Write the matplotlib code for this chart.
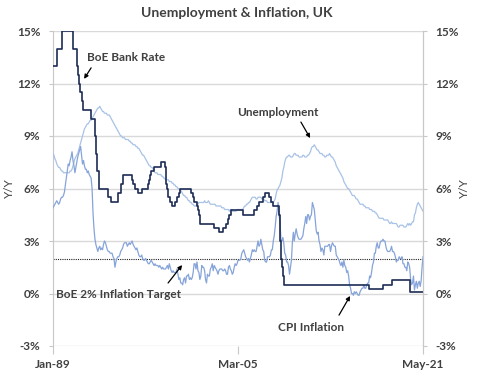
import pandas as pd
import matplotlib.pyplot as plt
import matplotlib.ticker as mticker

# ---------------------------------------------------------------------------
# Data (monthly, Jan-1989 .. May-2021)
# ---------------------------------------------------------------------------

months = pd.date_range("1989-01-01", "2021-05-01", freq="MS")

unemployment = [
    8.0, 7.9, 7.7, 7.6, 7.4, 7.3, 7.2, 7.2, 7.1, 7.0, 7.0, 6.9,      # 1989
    6.9, 6.9, 6.9, 6.9, 6.9, 6.9, 7.0, 7.0, 7.1, 7.3, 7.5, 7.7,      # 1990
    7.8, 7.9, 8.0, 8.2, 8.4, 8.6, 8.8, 9.0, 9.2, 9.4, 9.5, 9.6,      # 1991
    9.7, 9.7, 9.8, 9.9, 9.9, 10.0, 10.1, 10.2, 10.3, 10.4, 10.5, 10.6,  # 1992
    10.6, 10.7, 10.6, 10.5, 10.4, 10.4, 10.3, 10.3, 10.3, 10.2, 10.2, 10.2,  # 1993
    10.1, 10.0, 9.9, 9.8, 9.7, 9.6, 9.5, 9.4, 9.3, 9.2, 9.1, 9.0,    # 1994
    9.0, 8.9, 8.9, 8.9, 8.8, 8.8, 8.8, 8.8, 8.7, 8.7, 8.6, 8.6,      # 1995
    8.5, 8.5, 8.5, 8.4, 8.4, 8.3, 8.3, 8.2, 8.1, 8.0, 7.9, 7.9,      # 1996
    7.8, 7.7, 7.6, 7.5, 7.4, 7.3, 7.3, 7.2, 7.2, 7.1, 7.0, 6.9,      # 1997
    6.9, 6.9, 6.8, 6.8, 6.8, 6.8, 6.7, 6.7, 6.6, 6.6, 6.5, 6.5,      # 1998
    6.5, 6.5, 6.4, 6.4, 6.4, 6.3, 6.3, 6.2, 6.2, 6.1, 6.1, 6.0,      # 1999
    6.0, 5.9, 5.9, 5.8, 5.7, 5.6, 5.6, 5.5, 5.5, 5.4, 5.3, 5.3,      # 2000
    5.2, 5.2, 5.1, 5.1, 5.0, 5.0, 5.0, 5.1, 5.1, 5.2, 5.2, 5.2,      # 2001
    5.2, 5.2, 5.2, 5.3, 5.2, 5.2, 5.2, 5.3, 5.2, 5.1, 5.1, 5.1,      # 2002
    5.1, 5.1, 5.1, 5.0, 5.0, 5.0, 5.0, 5.0, 5.0, 4.9, 4.9, 4.9,      # 2003
    4.8, 4.8, 4.8, 4.8, 4.8, 4.7, 4.8, 4.8, 4.7, 4.7, 4.7, 4.7,      # 2004
    4.7, 4.8, 4.8, 4.8, 4.8, 4.8, 4.8, 4.8, 4.9, 5.0, 5.0, 5.1,      # 2005
    5.1, 5.2, 5.2, 5.3, 5.4, 5.5, 5.5, 5.5, 5.5, 5.4, 5.4, 5.5,      # 2006
    5.5, 5.5, 5.5, 5.4, 5.4, 5.4, 5.3, 5.3, 5.3, 5.2, 5.2, 5.2,      # 2007
    5.2, 5.2, 5.2, 5.2, 5.3, 5.4, 5.7, 5.9, 6.0, 6.1, 6.2, 6.4,      # 2008
    6.6, 7.0, 7.2, 7.5, 7.7, 7.8, 7.8, 7.9, 7.9, 7.8, 7.8, 7.8,      # 2009
    7.9, 8.0, 8.0, 7.9, 7.9, 7.9, 7.8, 7.8, 7.8, 7.8, 7.9, 7.9,      # 2010
    7.8, 7.8, 7.8, 7.9, 7.9, 8.0, 8.1, 8.3, 8.4, 8.4, 8.5, 8.4,      # 2011
    8.3, 8.2, 8.2, 8.1, 8.0, 8.0, 8.0, 7.9, 7.9, 7.8, 7.8, 7.9,      # 2012
    7.9, 7.9, 8.0, 7.9, 7.8, 7.8, 7.7, 7.6, 7.5, 7.3, 7.2, 7.1,      # 2013
    7.0, 6.9, 6.8, 6.7, 6.6, 6.4, 6.3, 6.2, 6.1, 6.0, 6.0, 5.9,      # 2014
    5.8, 5.7, 5.6, 5.6, 5.6, 5.5, 5.4, 5.4, 5.3, 5.2, 5.1, 5.1,      # 2015
    5.1, 5.1, 5.0, 5.0, 4.9, 4.9, 4.9, 4.9, 4.8, 4.8, 4.8, 4.7,      # 2016
    4.7, 4.7, 4.6, 4.6, 4.5, 4.4, 4.3, 4.3, 4.3, 4.3, 4.3, 4.2,      # 2017
    4.2, 4.2, 4.2, 4.2, 4.1, 4.0, 4.0, 4.1, 4.0, 4.0, 4.0, 4.0,      # 2018
    4.0, 3.9, 3.8, 3.8, 3.9, 3.9, 3.9, 3.9, 3.8, 3.8, 3.8, 3.9,      # 2019
    4.0, 3.9, 4.0, 3.9, 4.0, 4.1, 4.1, 4.5, 4.6, 4.9, 5.1, 5.2,      # 2020
    5.1, 5.0, 4.9, 4.8, 4.7,                                         # 2021
]

cpi_inflation = [
    4.9, 5.0, 5.1, 5.2, 5.3, 5.2, 5.1, 5.2, 5.4, 5.5, 5.5, 5.6,      # 1989
    5.8, 6.2, 6.6, 7.0, 7.4, 7.3, 7.6, 7.8, 8.1, 7.6, 7.3, 6.9,      # 1990
    7.2, 7.5, 7.8, 8.0, 8.2, 8.4, 7.9, 7.4, 7.6, 7.3, 7.1, 7.1,      # 1991
    6.9, 7.0, 6.8, 6.7, 6.6, 6.0, 4.6, 3.7, 3.1, 2.8, 2.6, 2.4,      # 1992
    2.6, 2.7, 2.5, 2.6, 2.5, 2.8, 3.0, 2.9, 2.7, 2.5, 2.4, 2.4,      # 1993
    2.3, 2.3, 2.3, 2.1, 2.0, 1.5, 1.8, 2.0, 2.1, 2.1, 2.2, 2.4,      # 1994
    2.5, 2.6, 2.8, 2.9, 2.9, 2.9, 2.7, 2.8, 2.9, 2.8, 2.9, 3.0,      # 1995
    2.8, 2.7, 2.6, 2.5, 2.6, 2.4, 2.2, 2.1, 2.1, 2.2, 2.0, 1.9,      # 1996
    1.9, 2.0, 1.9, 1.8, 1.7, 1.7, 1.8, 1.9, 1.8, 1.7, 1.6, 1.7,      # 1997
    1.6, 1.6, 1.6, 1.5, 1.6, 1.5, 1.4, 1.5, 1.4, 1.4, 1.4, 1.5,      # 1998
    1.6, 1.4, 1.7, 1.5, 1.3, 1.2, 1.3, 1.2, 1.2, 1.2, 1.4, 1.1,      # 1999
    0.8, 0.9, 0.6, 0.6, 0.5, 0.8, 0.9, 0.6, 1.0, 1.0, 1.1, 0.8,      # 2000
    0.9, 0.8, 0.9, 1.2, 1.7, 1.7, 1.4, 1.8, 1.3, 1.2, 0.8, 1.0,      # 2001
    1.6, 1.5, 1.5, 1.3, 0.8, 0.6, 1.1, 1.0, 1.0, 1.4, 1.5, 1.7,      # 2002
    1.3, 1.6, 1.5, 1.4, 1.3, 1.1, 1.3, 1.4, 1.4, 1.4, 1.3, 1.3,      # 2003
    1.4, 1.3, 1.1, 1.1, 1.5, 1.6, 1.4, 1.3, 1.1, 1.2, 1.5, 1.7,      # 2004
    1.6, 1.7, 1.9, 1.9, 1.9, 2.0, 2.3, 2.4, 2.5, 2.3, 2.1, 2.0,      # 2005
    1.9, 2.0, 1.8, 2.0, 2.2, 2.5, 2.4, 2.5, 2.4, 2.4, 2.7, 3.0,      # 2006
    2.7, 2.8, 3.1, 2.8, 2.5, 2.4, 1.9, 1.8, 1.8, 2.1, 2.1, 2.1,      # 2007
    2.2, 2.5, 2.5, 3.0, 3.3, 3.8, 4.4, 4.7, 5.2, 4.5, 4.1, 3.1,      # 2008
    3.0, 3.2, 2.9, 2.3, 2.2, 1.8, 1.8, 1.6, 1.1, 1.5, 1.9, 2.9,      # 2009
    3.5, 3.0, 3.4, 3.7, 3.4, 3.2, 3.1, 3.1, 3.1, 3.2, 3.3, 3.7,      # 2010
    4.0, 4.4, 4.0, 4.5, 4.5, 4.2, 4.4, 4.5, 5.2, 5.0, 4.8, 4.2,      # 2011
    3.6, 3.4, 3.5, 3.0, 2.8, 2.4, 2.6, 2.5, 2.2, 2.7, 2.7, 2.7,      # 2012
    2.7, 2.8, 2.8, 2.4, 2.7, 2.9, 2.8, 2.7, 2.7, 2.2, 2.1, 2.0,      # 2013
    1.9, 1.7, 1.6, 1.8, 1.5, 1.9, 1.6, 1.5, 1.2, 1.3, 1.0, 0.5,      # 2014
    0.3, 0.0, 0.0, -0.1, 0.1, 0.0, 0.1, 0.0, -0.1, -0.1, 0.1, 0.2,   # 2015
    0.3, 0.3, 0.5, 0.3, 0.3, 0.5, 0.6, 0.6, 1.0, 0.9, 1.2, 1.6,      # 2016
    1.8, 2.3, 2.3, 2.7, 2.9, 2.6, 2.6, 2.9, 3.0, 3.0, 3.1, 3.0,      # 2017
    3.0, 2.7, 2.5, 2.4, 2.4, 2.4, 2.5, 2.7, 2.4, 2.4, 2.3, 2.1,      # 2018
    1.8, 1.9, 1.9, 2.1, 2.0, 2.0, 2.1, 1.7, 1.7, 1.5, 1.5, 1.3,      # 2019
    1.8, 1.7, 1.5, 0.8, 0.5, 0.6, 1.0, 0.2, 0.5, 0.7, 0.3, 0.6,      # 2020
    0.7, 0.4, 0.7, 1.5, 2.1,                                         # 2021
]

# Bank Rate: month of change and new rate
bank_rate_dates = [
    "1989-01", "1989-05", "1989-10", "1990-10", "1991-02", "1991-03",
    "1991-04", "1991-05", "1991-07", "1991-09", "1992-05", "1992-09",
    "1992-10", "1992-11", "1993-01", "1993-11", "1994-02", "1994-09",
    "1994-12", "1995-02", "1995-12", "1996-01", "1996-03", "1996-06",
    "1996-10", "1997-05", "1997-06", "1997-07", "1997-08", "1997-11",
    "1998-06", "1998-10", "1998-11", "1998-12", "1999-01", "1999-02",
    "1999-04", "1999-06", "1999-09", "1999-11", "2000-01", "2000-02",
    "2001-02", "2001-04", "2001-05", "2001-08", "2001-09", "2001-10",
    "2001-11", "2003-02", "2003-07", "2003-11", "2004-02", "2004-05",
    "2004-06", "2004-08", "2005-08", "2006-08", "2006-11", "2007-01",
    "2007-05", "2007-07", "2007-12", "2008-02", "2008-04", "2008-10",
    "2008-11", "2008-12", "2009-01", "2009-02", "2009-03", "2016-08",
    "2017-11", "2018-08", "2020-03", "2021-05",
]
bank_rate = [
    13, 14, 15, 14, 13, 12.5,
    12, 11.5, 11, 10.5, 10, 9,
    8, 7, 6, 5.5, 5.25, 5.75,
    6.25, 6.75, 6.5, 6.25, 6, 5.75,
    6, 6.25, 6.5, 6.75, 7, 7.25,
    7.5, 7.25, 6.75, 6.25, 6, 5.5,
    5.25, 5, 5.25, 5.5, 5.75, 6,
    5.75, 5.5, 5.25, 5, 4.75, 4.5,
    4, 3.75, 3.5, 3.75, 4, 4.25,
    4.5, 4.75, 4.5, 4.75, 5, 5.25,
    5.5, 5.75, 5.5, 5.25, 5, 4.5,
    3, 2, 1.5, 1, 0.5, 0.25,
    0.5, 0.75, 0.1, 0.1,
]

inflation_target = 2

x_ticks = ["1989-01-01", "2005-03-01", "2021-05-01"]
y_ticks = [-3, 0, 3, 6, 9, 12, 15]

# ---------------------------------------------------------------------------
# Plot
# ---------------------------------------------------------------------------

plt.rcParams["font.family"] = ["Lato", "DejaVu Sans"]
plt.rcParams["font.weight"] = "bold"
text_color = "#404040"
grid_color = "#d9d9d9"

fig = plt.figure(figsize=(4.87, 3.84), dpi=100)
ax = fig.add_axes([53 / 487, 38 / 384, 370 / 487, 315 / 384])

ax.plot(months, unemployment, color="#a8c2e6", linewidth=0.9, zorder=3)
ax.plot(months, cpi_inflation, color="#86a4da", linewidth=0.9, zorder=4)
ax.step(pd.to_datetime(bank_rate_dates), bank_rate, where="post",
        color="#1c2c55", linewidth=1.2, zorder=5)

ax.axhline(inflation_target, color="#202020", linestyle=(0, (1, 1)),
           linewidth=0.8, zorder=2)

ax.set_xlim(months[0], months[-1])
ax.set_ylim(-3, 15)
ax.set_yticks(y_ticks)
ax.yaxis.set_major_formatter(mticker.FormatStrFormatter("%d%%"))
ax.set_xticks(pd.to_datetime(x_ticks))
ax.set_xticklabels([pd.Timestamp(d).strftime("%b-%y") for d in x_ticks])

ax.grid(axis="y", color=grid_color, linewidth=1.0, zorder=0)
for side in ["top", "bottom"]:
    ax.spines[side].set_visible(False)
for side in ["left", "right"]:
    ax.spines[side].set_color("#c8c8c8")

ax.tick_params(axis="y", length=3, color="#c8c8c8", labelsize=8.5,
               labelcolor=text_color, pad=6)
ax.tick_params(axis="x", length=6, color="#c8c8c8", labelsize=8.5,
               labelcolor=text_color, pad=3)
ax.set_ylabel("Y/Y", color=text_color, fontsize=8.5)
ax.yaxis.set_label_coords(-0.103, 0.5)

ax2 = ax.twinx()
ax2.set_ylim(-3, 15)
ax2.set_yticks(y_ticks)
ax2.yaxis.set_major_formatter(mticker.FormatStrFormatter("%d%%"))
for side in ["top", "bottom", "left"]:
    ax2.spines[side].set_visible(False)
ax2.spines["right"].set_color("#c8c8c8")
ax2.tick_params(axis="y", length=3, color="#c8c8c8", labelsize=8.5,
                labelcolor=text_color, pad=6)
ax2.set_ylabel("Y/Y", color=text_color, fontsize=8.5)
ax2.yaxis.set_label_coords(1.097, 0.5)

fig.text(0.487, 0.966, "Unemployment & Inflation, UK", ha="center",
         va="center", fontsize=10, color=text_color)

arrow = dict(arrowstyle="-|>", color="black", linewidth=0.9,
             mutation_scale=6, shrinkA=0, shrinkB=0)
notes = [
    ("BoE Bank Rate", (0.197, 0.917), (0.103, 0.883), (0.084, 0.848)),
    ("Unemployment", (0.608, 0.740), (0.670, 0.711), (0.695, 0.660)),
    ("BoE 2% Inflation Target", (0.176, 0.165), (0.311, 0.200), (0.349, 0.257)),
    ("CPI Inflation", (0.697, 0.060), (0.773, 0.098), (0.803, 0.159)),
]
for label, pos, tail, head in notes:
    ax.text(pos[0], pos[1], label, transform=ax.transAxes, ha="center",
            va="center", fontsize=8.5, color=text_color, zorder=6)
    ax.annotate("", xy=head, xytext=tail, xycoords="axes fraction",
                textcoords="axes fraction", arrowprops=arrow, zorder=6)

fig.savefig("out.png", dpi=100)
